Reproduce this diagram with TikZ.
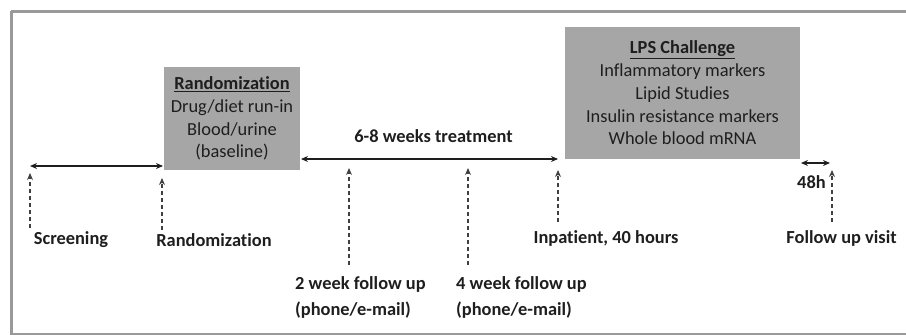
\documentclass[tikz,border=0pt]{standalone}
\usepackage{fontspec}
\setmainfont{Carlito}[Ligatures=NoCommon]
\usepackage{xcolor}
\usetikzlibrary{shapes,arrows,arrows.meta,positioning,calc}
\definecolor{framegray}{HTML}{999999}
\definecolor{boxgray}{HTML}{A6A6A6}
\definecolor{inkgray}{HTML}{1E1E1E}

\begin{document}
\begin{tikzpicture}[x=1pt,y=-1pt]
  \tikzstyle{box}=[fill=boxgray, inner sep=0pt, align=center, text=inkgray,
    font=\fontsize{18.4}{22.7}\selectfont]
  \tikzstyle{lbl}=[inner sep=0pt, text=inkgray, font=\fontsize{18.4}{26}\selectfont\bfseries]
  \tikzstyle{span}=[{Stealth[length=7pt,width=6pt]}-{Stealth[length=7pt,width=6pt]}, line width=1.4pt, inkgray]
  \tikzstyle{tick}=[-{Stealth[length=7pt,width=6pt]}, line width=1.4pt, dash pattern=on 4pt off 3pt, inkgray!85]

  \useasboundingbox (0,0) rectangle (906,335);
  % Rahmen
  \draw[line width=2.7pt, framegray] (11.3,11.3) -- (920,11.3);
  \draw[line width=2.7pt, framegray] (11.3,11.3) -- (11.3,334.2) -- (920,334.2);

  % Kaesten
  \node[box, minimum width=136pt, minimum height=103pt] (rand) at (232,118.5)
    {\textbf{\underline{Randomization}}\\Drug/diet run-in\\Blood/urine\\(baseline)};
  \node[box, minimum width=235pt, minimum height=132pt] (lps) at (682.5,93)
    {\textbf{\underline{LPS Challenge}}\\Inflammatory markers\\Lipid Studies\\Insulin resistance markers\\Whole blood mRNA};

  % Zeitachse
  \coordinate (scrL) at (30,166);
  \coordinate (scrR) at (163,166);
  \draw[span] (scrL) -- (scrR);
  \coordinate (trtL) at (301,159);
  \coordinate (trtR) at (558,159);
  \draw[span] (trtL) -- (trtR);
  \node[lbl] (trt) at (433.5,136) {6-8 weeks treatment};
  \coordinate (hL) at (801,163);
  \coordinate (hR) at (830,163);
  \draw[span] (hL) -- (hR);
  \node[lbl] (h48) at (811.5,182) {48h};

  % Besuche
  \node[lbl] (scr) at (71,240) {Screening};
  \node[lbl] (rnd) at (214,240) {Randomization};
  \node[lbl, align=left, anchor=west] (wk2) at (295,297) {2 week follow up\\(phone/e-mail)};
  \node[lbl, align=left, anchor=west] (wk4) at (456,297) {4 week follow up\\(phone/e-mail)};
  \node[lbl] (inp) at (606,238) {Inpatient, 40 hours};
  \node[lbl] (fup) at (841.5,238) {Follow up visit};

  \coordinate (a1) at (30,228);  \coordinate (b1) at (30,173);
  \coordinate (a2) at (162,230); \coordinate (b2) at (162,178);
  \coordinate (a3) at (349,265); \coordinate (b3) at (349,168);
  \coordinate (a4) at (468,265); \coordinate (b4) at (468,168);
  \coordinate (a5) at (558,222); \coordinate (b5) at (558,170);
  \coordinate (a6) at (832,222); \coordinate (b6) at (832,170);
  \foreach \i in {1,...,6}
    \draw[tick] (a\i) -- (b\i);
\end{tikzpicture}
\end{document}
